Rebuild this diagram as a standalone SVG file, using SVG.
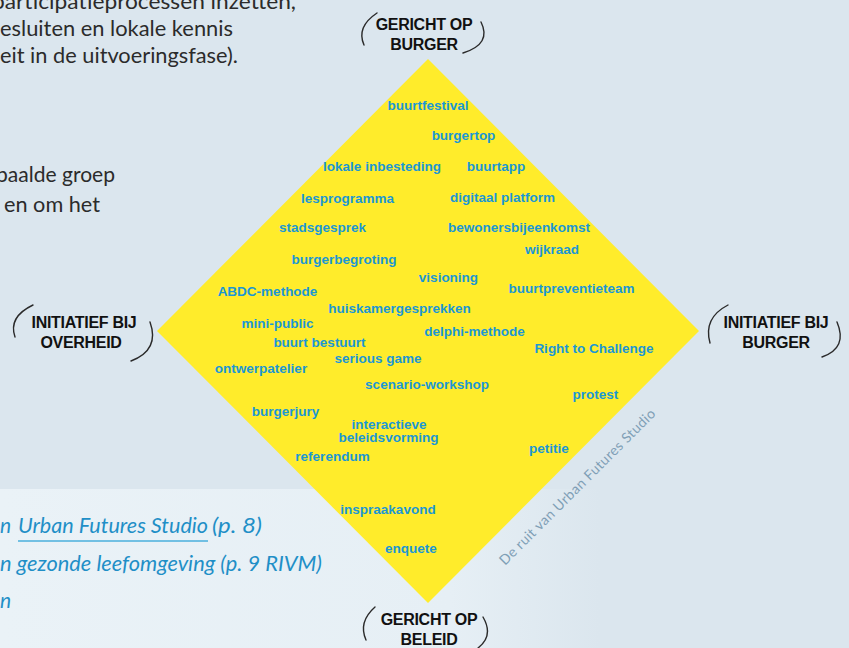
<svg xmlns="http://www.w3.org/2000/svg" width="849" height="648" viewBox="0 0 849 648">
<defs>
<linearGradient id="panel" x1="0" y1="0" x2="1" y2="0">
<stop offset="0" stop-color="#eaf2f7"/>
<stop offset="0.75" stop-color="#e6eff5"/>
<stop offset="1" stop-color="#dbe6ee"/>
</linearGradient>
<style>
.body{font-family:Lato,"Open Sans",sans-serif;font-size:21px;fill:#2b2b2b}
.ital{font-family:Lato,"Open Sans",sans-serif;font-size:21px;font-style:italic;fill:#1f8fc7}
.lbl{font-family:"Liberation Sans",Arial,sans-serif;font-size:16px;font-weight:bold;fill:#111;text-anchor:middle;letter-spacing:-0.3px}
.arc{fill:none;stroke:#2a2a2a;stroke-width:1.4;stroke-linecap:round}
.item{font-family:"Liberation Sans",Arial,sans-serif;font-size:13.5px;font-weight:bold;fill:#1b97d4;text-anchor:middle}
.credit{font-family:Lato,"Open Sans",sans-serif;font-size:14px;fill:#7f9fb6}
</style>
</defs>
<rect width="849" height="648" fill="#dbe6ee"/>
<rect x="0" y="489" width="600" height="159" fill="url(#panel)"/>

<g id="intro-text">
<text class="body" x="-8" y="9" textLength="304" lengthAdjust="spacingAndGlyphs">participatieprocessen inzetten,</text>
<text class="body" x="0" y="36" textLength="233" lengthAdjust="spacingAndGlyphs">esluiten en lokale kennis</text>
<text class="body" x="0" y="63" textLength="238" lengthAdjust="spacingAndGlyphs">eit in de uitvoeringsfase).</text>
<text class="body" x="-4" y="182" textLength="119" lengthAdjust="spacingAndGlyphs">paalde groep</text>
<text class="body" x="4" y="212" textLength="96" lengthAdjust="spacingAndGlyphs">en om het</text>
</g>

<g id="links-text">
<text class="ital" x="0" y="533">n</text>
<text class="ital" x="18" y="533" textLength="190" lengthAdjust="spacingAndGlyphs">Urban Futures Studio</text>
<text class="ital" x="212" y="533" textLength="50" lengthAdjust="spacingAndGlyphs">(p. 8)</text>
<line x1="18" y1="541" x2="208" y2="541" stroke="#4aafdc" stroke-width="1.6"/>
<text class="ital" x="0" y="571" textLength="322" lengthAdjust="spacingAndGlyphs">n gezonde leefomgeving (p. 9 RIVM)</text>
<text class="ital" x="0" y="608">n</text>
</g>

<g id="diamond">
<polygon points="428,59 699,331 428,603 157,331" fill="#ffec2b"/>
</g>

<g id="label-top">
<path class="arc" d="M377,13 Q356,27 364,45"/>
<path class="arc" d="M481,22 Q492,44 463,53"/>
<text class="lbl" x="424" y="30">GERICHT OP</text>
<text class="lbl" x="424" y="50">BURGER</text>
</g>
<g id="label-left">
<path class="arc" d="M33,305 Q8,317 15,337"/>
<path class="arc" d="M150,322 Q160,350 131,361"/>
<text class="lbl" x="84" y="328">INITIATIEF BIJ</text>
<text class="lbl" x="81" y="348">OVERHEID</text>
</g>
<g id="label-right">
<path class="arc" d="M728,305 Q703,318 710,343"/>
<path class="arc" d="M837,322 Q848,348 822,357"/>
<text class="lbl" x="776" y="328">INITIATIEF BIJ</text>
<text class="lbl" x="776" y="348">BURGER</text>
</g>
<g id="label-bottom">
<path class="arc" d="M375,607 Q358,622 366,640"/>
<path class="arc" d="M483,617 Q494,636 478,648"/>
<text class="lbl" x="429" y="625">GERICHT OP</text>
<text class="lbl" x="429" y="645">BELEID</text>
</g>

<g id="items">
<text class="item" x="428" y="110">buurtfestival</text>
<text class="item" x="463.5" y="140">burgertop</text>
<text class="item" x="382" y="171">lokale inbesteding</text>
<text class="item" x="496" y="171">buurtapp</text>
<text class="item" x="347.5" y="203">lesprogramma</text>
<text class="item" x="502.5" y="202">digitaal platform</text>
<text class="item" x="322.5" y="232">stadsgesprek</text>
<text class="item" x="519" y="232">bewonersbijeenkomst</text>
<text class="item" x="552" y="254">wijkraad</text>
<text class="item" x="344" y="264">burgerbegroting</text>
<text class="item" x="448.5" y="282">visioning</text>
<text class="item" x="267.5" y="296">ABDC-methode</text>
<text class="item" x="571.5" y="293">buurtpreventieteam</text>
<text class="item" x="399.5" y="313">huiskamergesprekken</text>
<text class="item" x="277.5" y="328">mini-public</text>
<text class="item" x="474.5" y="336">delphi-methode</text>
<text class="item" x="319.5" y="347">buurt bestuurt</text>
<text class="item" x="594" y="353">Right to Challenge</text>
<text class="item" x="378" y="363">serious game</text>
<text class="item" x="261" y="373">ontwerpatelier</text>
<text class="item" x="427" y="389">scenario-workshop</text>
<text class="item" x="595.5" y="399">protest</text>
<text class="item" x="285.5" y="416">burgerjury</text>
<text class="item" x="389" y="429">interactieve</text>
<text class="item" x="388.5" y="442">beleidsvorming</text>
<text class="item" x="549" y="453">petitie</text>
<text class="item" x="332.5" y="461">referendum</text>
<text class="item" x="388" y="514">inspraakavond</text>
<text class="item" x="411" y="553">enquete</text>
</g>

<g id="credit">
<text class="credit" x="0" y="0" transform="translate(505,566) rotate(-45)" textLength="214">De ruit van Urban Futures Studio</text>
</g>
</svg>
